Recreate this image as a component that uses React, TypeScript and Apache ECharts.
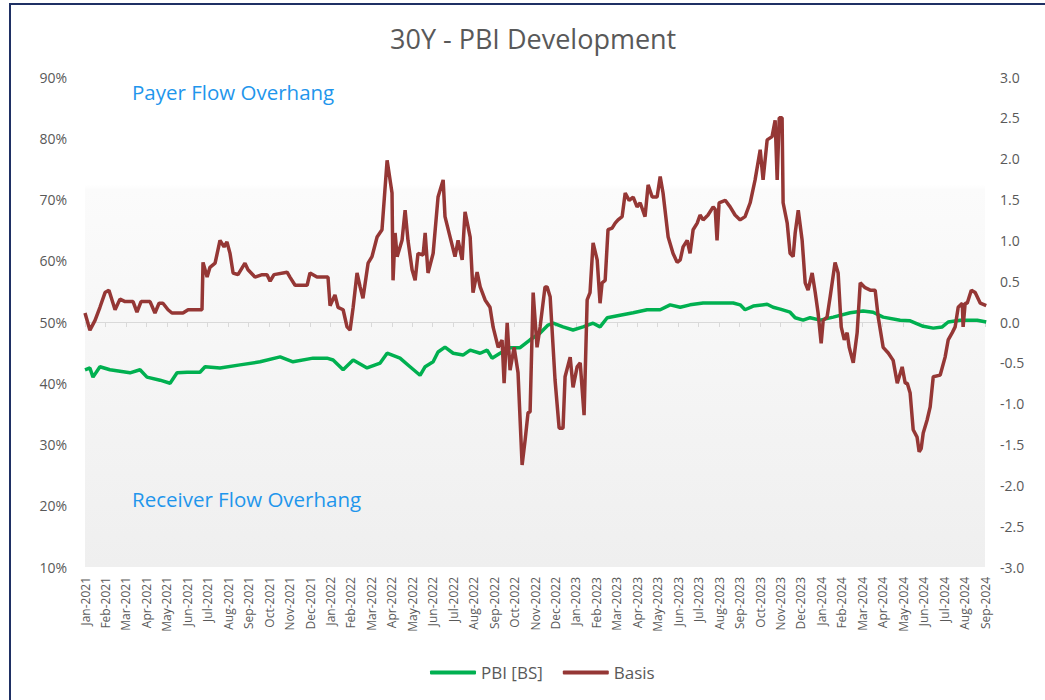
import React, { useEffect, useRef } from "react";
import * as echarts from "echarts";

// Month tick labels (x axis positions 0..44)
const monthLabels = [
  "Jan-2021","Feb-2021","Mar-2021","Apr-2021","May-2021","Jun-2021","Jul-2021","Aug-2021","Sep-2021","Oct-2021","Nov-2021","Dec-2021",
  "Jan-2022","Feb-2022","Mar-2022","Apr-2022","May-2022","Jun-2022","Jul-2022","Aug-2022","Sep-2022","Oct-2022","Nov-2022","Dec-2022",
  "Jan-2023","Feb-2023","Mar-2023","Apr-2023","May-2023","Jun-2023","Jul-2023","Aug-2023","Sep-2023","Oct-2023","Nov-2023","Dec-2023",
  "Jan-2024","Feb-2024","Mar-2024","Apr-2024","May-2024","Jun-2024","Jul-2024","Aug-2024","Sep-2024",
];

// Basis: time (in months since Jan-2021) and value (right axis)
const basisT = [
  0.00,0.24,0.49,0.73,0.98,1.17,1.47,1.71,1.96,2.35,2.54,2.74,3.18,3.42,3.62,3.81,4.06,4.25,4.79,5.04,5.72,5.77,5.97,6.11,6.36,6.60,6.80,6.94,7.09,7.24,7.48,7.82,7.97,8.31,8.66,8.90,9.05,9.24,9.88,10.02,10.27,10.86,11.00,11.34,11.88,11.98,
  12.22,12.37,12.62,12.81,12.96,13.11,13.30,13.45,13.59,13.84,14.03,14.28,14.52,14.77,15.01,15.06,15.16,15.26,15.50,15.65,15.79,15.99,16.14,16.28,16.53,16.63,16.77,17.02,17.26,17.51,17.60,17.85,18.09,18.24,18.44,18.58,18.83,18.97,19.17,19.32,19.56,19.80,19.95,
  20.20,20.39,20.49,20.64,20.78,20.98,21.17,21.37,21.52,21.66,21.76,21.91,22.10,22.25,22.49,22.59,22.74,22.98,23.18,23.37,23.47,23.72,23.86,24.06,24.21,24.40,24.55,24.69,24.84,25.04,25.18,25.28,25.43,25.57,25.77,25.92,26.06,26.26,26.41,26.60,26.80,26.99,27.14,27.38,27.53,27.73,27.97,
  28.12,28.26,28.51,28.75,28.95,29.10,29.24,29.44,29.58,29.73,29.93,30.07,30.22,30.46,30.71,30.81,30.90,31.00,31.30,31.54,31.78,32.03,32.27,32.52,32.76,33.01,33.15,33.35,33.59,33.74,33.84,33.94,34.08,34.13,34.33,34.47,34.62,34.72,34.87,35.06,35.21,35.35,35.55,35.70,35.84,35.99,
  36.09,36.28,36.43,36.67,36.82,36.97,37.12,37.26,37.36,37.56,37.75,37.90,38.14,38.39,38.63,38.78,39.02,39.27,39.51,39.71,39.95,40.10,40.20,40.34,40.49,40.68,40.78,40.88,40.98,41.17,41.32,41.47,41.81,42.05,42.20,42.40,42.54,42.69,42.89,42.93,43.03,43.13,43.33,43.52,43.77,44.06,
];
const basisV = [
  0.11,-0.10,0.02,0.18,0.36,0.39,0.15,0.28,0.25,0.25,0.12,0.25,0.25,0.11,0.23,0.23,0.15,0.11,0.11,0.15,0.15,0.73,0.55,0.67,0.72,1.00,0.92,0.98,0.84,0.60,0.58,0.72,0.64,0.55,0.58,0.58,0.50,0.58,0.61,0.55,0.45,0.45,0.60,0.55,0.55,0.20,
  0.33,0.18,0.15,-0.06,-0.10,0.18,0.60,0.43,0.29,0.72,0.80,1.04,1.13,1.98,1.58,0.51,1.09,0.80,1.00,1.37,1.00,0.64,0.51,0.84,0.82,1.09,0.60,0.84,1.53,1.74,1.29,1.04,0.80,1.00,0.76,1.35,1.04,0.36,0.61,0.43,0.27,0.18,-0.06,
  -0.31,-0.22,-0.75,-0.01,-0.59,-0.31,-0.62,-1.75,-1.44,-1.11,-1.10,0.36,-0.31,-0.06,0.43,0.43,0.31,-0.71,-1.30,-1.30,-0.67,-0.43,-0.80,-0.55,-0.50,-1.14,0.27,0.36,0.97,0.76,0.23,0.48,0.51,1.13,1.15,1.21,1.25,1.29,1.58,1.49,1.53,1.41,1.46,1.29,1.68,1.53,1.53,
  1.78,1.58,1.04,0.84,0.73,0.76,0.92,1.00,0.84,1.13,1.21,1.31,1.25,1.31,1.41,1.38,1.00,1.46,1.49,1.41,1.31,1.25,1.29,1.46,1.74,2.11,1.74,2.23,2.27,2.47,1.74,2.50,2.50,1.46,1.21,0.84,0.80,1.09,1.37,1.00,0.48,0.39,0.60,0.36,0.11,-0.26,
  0.02,0.06,0.31,0.73,0.60,-0.06,-0.22,-0.13,-0.31,-0.50,-0.13,0.48,0.42,0.39,0.39,0.06,-0.31,-0.38,-0.47,-0.75,-0.55,-0.75,-0.75,-0.87,-1.32,-1.41,-1.59,-1.55,-1.36,-1.20,-1.04,-0.67,-0.65,-0.43,-0.22,-0.13,-0.06,0.18,0.23,-0.06,0.23,0.23,0.39,0.36,0.23,0.20,
];

// PBI [BS]: time (months since Jan-2021) and value in % (left axis)
const pbiT = [
  0.00,0.24,0.39,0.73,1.22,2.20,2.69,3.03,3.67,4.16,4.50,4.99,5.62,5.87,6.60,7.58,8.56,9.54,10.17,11.15,11.83,12.13,12.62,13.11,13.79,14.43,14.77,15.40,15.89,16.38,16.63,17.02,17.26,17.60,18.00,18.48,18.83,19.32,19.66,19.90,20.29,20.78,21.27,21.76,22.25,22.64,22.89,
  23.37,23.86,24.35,24.84,25.18,25.53,26.16,26.80,27.48,28.12,28.61,29.10,29.58,30.22,31.05,31.69,32.03,32.27,32.67,33.35,33.64,33.99,34.47,34.72,35.11,35.45,35.94,36.58,37.41,38.04,38.53,39.02,39.85,40.34,40.98,41.47,41.91,42.20,42.79,43.62,44.06,
];
const pbiV = [
  42.2,42.5,41.0,42.7,42.2,41.7,42.2,41.0,40.5,40.0,41.7,41.8,41.8,42.7,42.5,43.0,43.5,44.3,43.5,44.1,44.1,43.8,42.2,43.8,42.5,43.3,44.9,44.1,42.7,41.3,42.7,43.5,45.1,45.9,44.9,44.6,45.4,44.9,45.4,44.1,44.9,45.8,45.8,47.1,48.2,49.5,49.8,
  49.2,48.7,49.2,49.8,49.2,50.7,51.1,51.5,52.0,52.0,52.8,52.4,52.8,53.1,53.1,53.1,52.8,52.0,52.6,52.9,52.4,52.1,51.6,50.7,50.3,50.7,50.3,50.8,51.5,51.8,51.6,50.8,50.3,50.2,49.3,49.0,49.2,50.0,50.3,50.3,50.0,
];

const GRAY = "#595959";
const FONT = "'Open Sans', 'Noto Sans', sans-serif";

export default function App() {
  const ref = useRef<HTMLDivElement>(null);

  useEffect(() => {
    if (!ref.current) return;
    const chart = echarts.init(ref.current, undefined, { renderer: "svg" });
    const basisData = basisT.map((t, i) => [t, basisV[i]]);
    const pbiData = pbiT.map((t, i) => [t, pbiV[i]]);

    chart.setOption({
      animation: false,
      backgroundColor: "#ffffff",
      textStyle: { fontFamily: FONT },
      title: {
        text: "30Y - PBI Development",
        left: 385,
        top: 20,
        textStyle: { fontFamily: FONT, fontSize: 27, fontWeight: "normal", color: GRAY },
      },
      legend: {
        top: 659,
        left: 425,
        itemWidth: 46,
        itemHeight: 4,
        itemGap: 20,
        icon: "roundRect",
        textStyle: { fontFamily: FONT, fontSize: 17, color: GRAY },
        data: ["PBI [BS]", "Basis"],
      },
      grid: {
        left: 85,
        right: 60,
        top: 77,
        bottom: 133,
        show: true,
        borderWidth: 0,
        backgroundColor: new echarts.graphic.LinearGradient(0, 0, 0, 1, [
          { offset: 0, color: "#ffffff" },
          { offset: 0.22, color: "#ffffff" },
          { offset: 0.23, color: "#fbfbfb" },
          { offset: 1, color: "#efefef" },
        ]),
      },
      xAxis: {
        type: "value",
        min: 0,
        max: 44,
        interval: 1,
        axisLine: { show: true, lineStyle: { color: "#d9d9d9", width: 1 } },
        axisTick: { show: true, length: 5, lineStyle: { color: "#d9d9d9" } },
        splitLine: { show: false },
        axisLabel: {
          rotate: 90,
          margin: 10,
          fontSize: 12,
          color: GRAY,
          fontFamily: FONT,
          formatter: (v: number) => monthLabels[Math.round(v)] ?? "",
        },
      },
      yAxis: [
        {
          type: "value",
          min: 10,
          max: 90,
          interval: 10,
          axisLine: { show: false },
          axisTick: { show: false },
          splitLine: { show: false },
          axisLabel: { formatter: "{value}%", fontSize: 14, color: GRAY, margin: 18, fontFamily: FONT },
        },
        {
          type: "value",
          min: -3,
          max: 3,
          interval: 0.5,
          position: "right",
          axisLine: { show: false },
          axisTick: { show: false },
          splitLine: { show: false },
          axisLabel: {
            formatter: (v: number) => v.toFixed(1),
            fontSize: 14,
            color: GRAY,
            margin: 15,
            fontFamily: FONT,
          },
        },
      ],
      graphic: [
        {
          type: "rect",
          shape: { x: 10, y: 4, width: 1100, height: 800 },
          style: { fill: "none", stroke: "#1f3064", lineWidth: 2 },
          silent: true,
          z: 100,
        },
        {
          type: "text",
          x: 132,
          y: 81,
          style: { text: "Payer Flow Overhang", fill: "#1f96ec", fontSize: 20.5, fontFamily: FONT },
          silent: true,
        },
        {
          type: "text",
          x: 132,
          y: 488,
          style: { text: "Receiver Flow Overhang", fill: "#1f96ec", fontSize: 20.5, fontFamily: FONT },
          silent: true,
        },
      ],
      series: [
        {
          name: "PBI [BS]",
          type: "line",
          yAxisIndex: 0,
          data: pbiData,
          showSymbol: false,
          symbol: "none",
          itemStyle: { color: "#00b050" },
          lineStyle: { color: "#00b050", width: 3.5 },
          z: 3,
          markLine: {
            silent: true,
            symbol: "none",
            label: { show: false },
            lineStyle: {
              color: "#b3b3b3",
              width: 3,
              type: "solid",
              shadowColor: "rgba(0,0,0,0.25)",
              shadowBlur: 4,
              shadowOffsetY: 2,
            },
            data: [{ yAxis: 50 }],
            z: 1,
          },
        },
        {
          name: "Basis",
          type: "line",
          yAxisIndex: 1,
          data: basisData,
          showSymbol: false,
          symbol: "none",
          itemStyle: { color: "#953735" },
          lineStyle: { color: "#953735", width: 3.5 },
          z: 4,
        },
      ],
    });

    return () => chart.dispose();
  }, []);

  return (
    <div
      ref={ref}
      style={{ position: "fixed", left: 0, top: 0, width: 1045, height: 700 }}
    />
  );
}
